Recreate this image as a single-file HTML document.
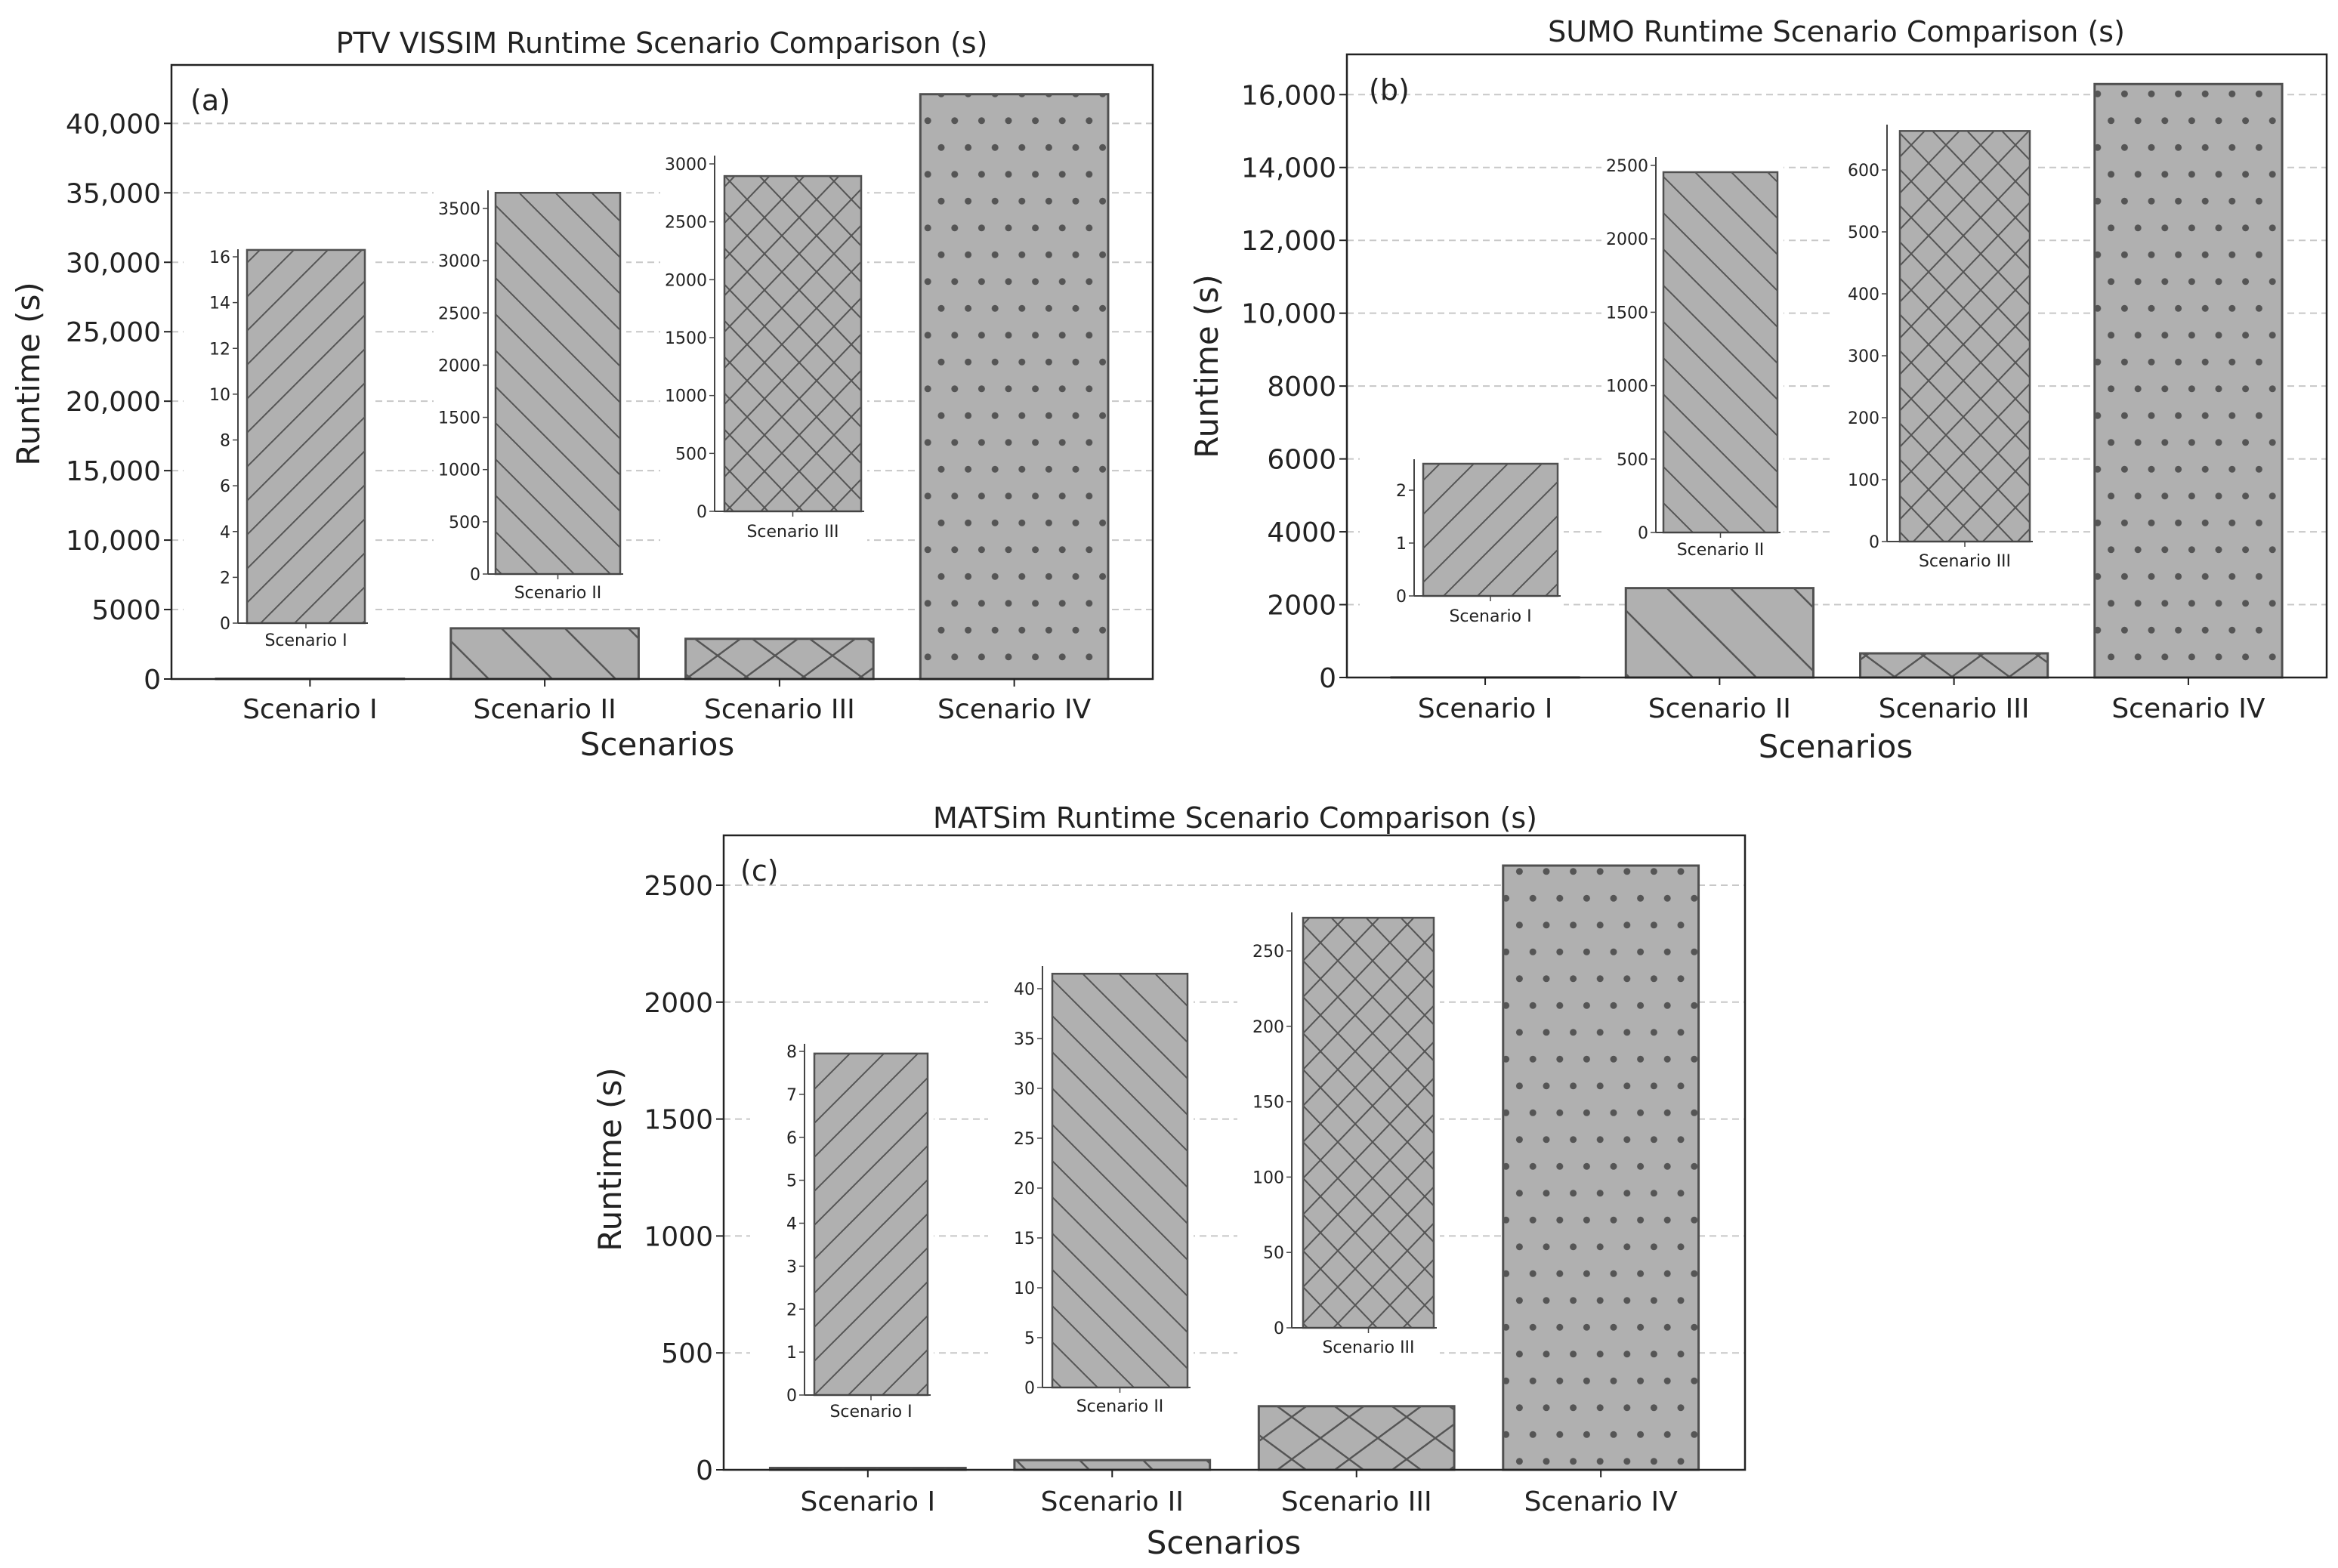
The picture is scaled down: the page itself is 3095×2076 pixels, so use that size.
<!DOCTYPE html>
<html><head><meta charset="utf-8">
<style>
html,body{margin:0;padding:0;background:#fff;}
svg{display:block;}
text{font-family:"DejaVu Sans","Liberation Sans",sans-serif;fill:#222;}
</style></head>
<body>
<svg id="fig" xmlns="http://www.w3.org/2000/svg" width="3095" height="2076" viewBox="0 0 3095 2076">
<defs>
 <pattern id="hs-main" patternUnits="userSpaceOnUse" width="45" height="45"><path d="M-5,5 L5,-5 M0,45 L45,0 M40,50 L50,40" stroke="#555" stroke-width="2"/></pattern>
 <pattern id="hs-in" patternUnits="userSpaceOnUse" width="45" height="45"><path d="M-5,5 L5,-5 M0,45 L45,0 M40,50 L50,40" stroke="#555" stroke-width="2"/></pattern>
 <pattern id="hb-main" patternUnits="userSpaceOnUse" width="84" height="84"><path d="M-10,-10 L94,94 M-10,74 L10,94 M74,-10 L94,10" stroke="#555" stroke-width="2.5"/></pattern>
 <pattern id="hb-in" patternUnits="userSpaceOnUse" width="48" height="48"><path d="M-6,-6 L54,54 M-6,42 L6,54 M42,-6 L54,6" stroke="#555" stroke-width="2"/></pattern>
 <pattern id="hx-main" patternUnits="userSpaceOnUse" width="76" height="56"><path d="M0,0 L76,56 M0,56 L76,0" stroke="#555" stroke-width="2.5"/></pattern>
 <pattern id="hx-in" patternUnits="userSpaceOnUse" width="46" height="48"><path d="M0,0 L46,48 M0,48 L46,0" stroke="#555" stroke-width="2"/></pattern>
 <pattern id="hd-main" patternUnits="userSpaceOnUse" width="35.6" height="71"><circle cx="17.8" cy="17.8" r="4.5" fill="#555"/><circle cx="0" cy="53.3" r="4.5" fill="#555"/><circle cx="35.6" cy="53.3" r="4.5" fill="#555"/></pattern>
</defs>
</svg>
<script>
// ---------- data ----------
const categories = ['Scenario I', 'Scenario II', 'Scenario III', 'Scenario IV'];
const vissimValues = [16.3, 3650, 2895, 42100];
const sumoValues = [2.5, 2454, 663, 16290];
const matsimValues = [7.95, 41.5, 272, 2584];
const vissimTicks = [0, 5000, 10000, 15000, 20000, 25000, 30000, 35000, 40000];
const sumoTicks = [0, 2000, 4000, 6000, 8000, 10000, 12000, 14000, 16000];
const matsimTicks = [0, 500, 1000, 1500, 2000, 2500];
const vissimInsetTicksI = [0, 2, 4, 6, 8, 10, 12, 14, 16];
const vissimInsetTicksII = [0, 500, 1000, 1500, 2000, 2500, 3000, 3500];
const vissimInsetTicksIII = [0, 500, 1000, 1500, 2000, 2500, 3000];
const sumoInsetTicksI = [0, 1, 2];
const sumoInsetTicksII = [0, 500, 1000, 1500, 2000, 2500];
const sumoInsetTicksIII = [0, 100, 200, 300, 400, 500, 600];
const matsimInsetTicksI = [0, 1, 2, 3, 4, 5, 6, 7, 8];
const matsimInsetTicksII = [0, 5, 10, 15, 20, 25, 30, 35, 40];
const matsimInsetTicksIII = [0, 50, 100, 150, 200, 250];
const titles = ['PTV VISSIM Runtime Scenario Comparison (s)', 'SUMO Runtime Scenario Comparison (s)', 'MATSim Runtime Scenario Comparison (s)'];

const NS = 'http://www.w3.org/2000/svg';
const svg = document.getElementById('fig');
function mk(tag, attrs, parent) {
  const e = document.createElementNS(NS, tag);
  for (const k in attrs) e.setAttribute(k, attrs[k]);
  (parent || svg).appendChild(e);
  return e;
}
function fmt(v) { return v >= 10000 ? v.toLocaleString('en-US') : String(v); }
const mainFills = ['url(#hs-main)', 'url(#hb-main)', 'url(#hx-main)', 'url(#hd-main)'];
const inFills = ['url(#hs-in)', 'url(#hb-in)', 'url(#hx-in)'];

function panel(cfg, values, ticks, insetTicks, title) {
  const g = mk('g', {});
  
  
  const ymax = Math.max(...values) * 1.05;
  const xmin = -0.59, xmax = 3.59;
  const xs = v => cfg.left + (v - xmin) / (xmax - xmin) * (cfg.right - cfg.left);
  const ys = v => cfg.zero - v / ymax * (cfg.zero - cfg.top);
  const bw = 0.8 * (xs(1) - xs(0));
  ticks.forEach(t => {
    const l = mk('line', {x1: cfg.left, x2: cfg.right, y1: ys(t), y2: ys(t), stroke: '#c8c8c8', 'stroke-width': 2, 'stroke-dasharray': '9,6'}, g);
    
    
  });
  values.forEach((v, i) => {
    const x = xs(i) - bw / 2;
    const r = mk('rect', {x: x, y: ys(v), width: bw, height: cfg.zero - ys(v), fill: '#b0b0b0', stroke: '#505050', 'stroke-width': 3}, g);
    
    
    mk('rect', {x: x, y: ys(v), width: bw, height: cfg.zero - ys(v), fill: mainFills[i]}, g);
    mk('line', {x1: xs(i), x2: xs(i), y1: cfg.zero, y2: cfg.zero + 10, stroke: '#222', 'stroke-width': 2}, g);
    const tl = mk('text', {x: xs(i), y: cfg.catY, 'font-size': 36, 'text-anchor': 'middle'}, g);
    tl.textContent = categories[i];
    
    
  });
  cfg.insets.forEach((ins, k) => {
    const v = values[k];
    const tks = insetTicks[k];
    const tmax = tks[tks.length - 1];
    const unit = (ins.zero - ins.refY) / tmax;
    const iy = val => ins.zero - val * unit;
    const bg = mk('rect', {x: ins.ax - 72, y: ins.atop - 8, width: ins.br - ins.ax + 80, height: ins.labY - ins.atop + 22, fill: '#fff'}, g);
    
    
    const r = mk('rect', {x: ins.bl, y: iy(v), width: ins.br - ins.bl, height: ins.zero - iy(v), fill: '#b0b0b0', stroke: '#505050', 'stroke-width': 2.5}, g);
    
    
    mk('rect', {x: ins.bl, y: iy(v), width: ins.br - ins.bl, height: ins.zero - iy(v), fill: inFills[k]}, g);
    mk('line', {x1: ins.ax, x2: ins.ax, y1: ins.atop, y2: ins.zero, stroke: '#444', 'stroke-width': 2}, g);
    mk('line', {x1: ins.ax, x2: ins.br + 4, y1: ins.zero, y2: ins.zero, stroke: '#444', 'stroke-width': 2}, g);
    tks.forEach(t => {
      mk('line', {x1: ins.ax - 7, x2: ins.ax, y1: iy(t), y2: iy(t), stroke: '#444', 'stroke-width': 1.5}, g);
      const tt = mk('text', {x: ins.ax - 10, y: iy(t) + 8, 'font-size': 22, 'text-anchor': 'end'}, g);
      tt.textContent = t;
      
      
    });
    const cx = (ins.bl + ins.br) / 2;
    mk('line', {x1: cx, x2: cx, y1: ins.zero, y2: ins.zero + 7, stroke: '#444', 'stroke-width': 1.5}, g);
    const lb = mk('text', {x: cx, y: ins.labY, 'font-size': 22, 'text-anchor': 'middle'}, g);
    lb.textContent = categories[k];
    
    
  });
  const fr = mk('rect', {x: cfg.left, y: cfg.top, width: cfg.right - cfg.left, height: cfg.zero - cfg.top, fill: 'none', stroke: '#222', 'stroke-width': 2.5}, g);
  
  
  ticks.forEach(t => {
    mk('line', {x1: cfg.left - 10, x2: cfg.left, y1: ys(t), y2: ys(t), stroke: '#222', 'stroke-width': 2}, g);
    const tt = mk('text', {x: cfg.left - 14, y: ys(t) + 13, 'font-size': 36, 'text-anchor': 'end'}, g);
    tt.textContent = fmt(t);
    
    
  });
  const ti = mk('text', {x: cfg.titleX, y: cfg.titleY, 'font-size': 38, 'text-anchor': 'middle'}, g);
  ti.textContent = title;
  
  
  const pl = mk('text', {x: cfg.letterX, y: cfg.letterY, 'font-size': 38, 'font-family': 'Liberation Sans, sans-serif'}, g);
  pl.textContent = cfg.letter;
  
  
  const yl = mk('text', {x: 0, y: 0, 'font-size': 42, 'text-anchor': 'middle', transform: 'translate(' + cfg.ylabX + ',' + cfg.ylabY + ') rotate(-90)'}, g);
  yl.textContent = 'Runtime (s)';
  
  
  const xl = mk('text', {x: cfg.xlabX, y: cfg.xlabBase, 'font-size': 42, 'text-anchor': 'middle'}, g);
  xl.textContent = 'Scenarios';
  
  
}

panel({name: 'panel-a-vissim', left: 227, right: 1526, top: 86, zero: 899, catY: 951, titleX: 876, titleY: 70,
  letter: '(a)', letterX: 252, letterY: 146, ylabX: 52, ylabY: 495, xlabX: 870, xlabBase: 1000,
  insets: [
    {ax: 315, bl: 327, br: 483, zero: 825, refY: 340, atop: 330, labY: 855},
    {ax: 646, bl: 656, br: 821, zero: 760, refY: 276, atop: 252, labY: 792},
    {ax: 946, bl: 959, br: 1140, zero: 677, refY: 217, atop: 206, labY: 711}
  ]}, vissimValues, vissimTicks, [vissimInsetTicksI, vissimInsetTicksII, vissimInsetTicksIII], titles[0]);

panel({name: 'panel-b-sumo', left: 1783, right: 3080, top: 72, zero: 897, catY: 950, titleX: 2431, titleY: 55,
  letter: '(b)', letterX: 1812, letterY: 132, ylabX: 1612, ylabY: 485, xlabX: 2430, xlabBase: 1003,
  insets: [
    {ax: 1872, bl: 1884, br: 2062, zero: 789, refY: 649, atop: 608, labY: 823},
    {ax: 2192, bl: 2202, br: 2353, zero: 705, refY: 219, atop: 208, labY: 735},
    {ax: 2498, bl: 2515, br: 2687, zero: 717, refY: 225, atop: 165, labY: 750}
  ]}, sumoValues, sumoTicks, [sumoInsetTicksI, sumoInsetTicksII, sumoInsetTicksIII], titles[1]);

panel({name: 'panel-c-matsim', left: 958, right: 2310, top: 1106, zero: 1946, catY: 2000, titleX: 1635, titleY: 1096,
  letter: '(c)', letterX: 980, letterY: 1166, ylabX: 822, ylabY: 1535, xlabX: 1620, xlabBase: 2057,
  insets: [
    {ax: 1065, bl: 1078, br: 1228, zero: 1847, refY: 1392, atop: 1382, labY: 1876},
    {ax: 1380, bl: 1393, br: 1572, zero: 1837, refY: 1309, atop: 1279, labY: 1869},
    {ax: 1710, bl: 1725, br: 1898, zero: 1758, refY: 1259, atop: 1208, labY: 1791}
  ]}, matsimValues, matsimTicks, [matsimInsetTicksI, matsimInsetTicksII, matsimInsetTicksIII], titles[2]);
</script>
</body></html>
